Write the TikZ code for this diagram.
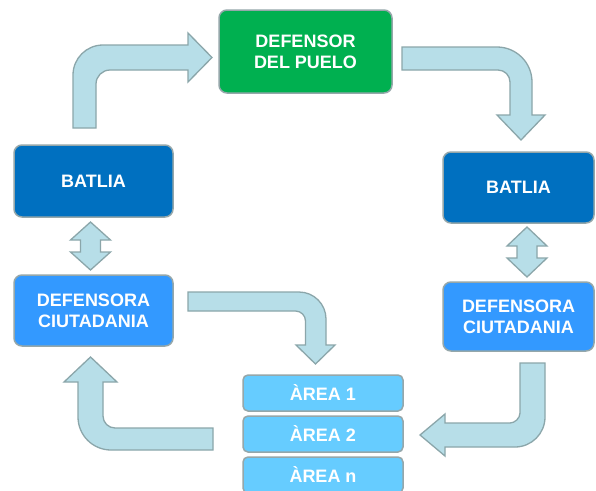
\documentclass[tikz,border=0pt]{standalone}
\usepackage{fontspec}
\setmainfont{Liberation Sans}
\definecolor{cgreen}{HTML}{00B050}
\definecolor{cdark}{HTML}{0070C0}
\definecolor{cmid}{HTML}{3399FF}
\definecolor{carea}{HTML}{66CCFF}
\definecolor{afill}{HTML}{B7DEE8}
\definecolor{aline}{HTML}{8BA6AA}
\definecolor{bline}{HTML}{95A7AA}
\begin{document}
\begin{tikzpicture}[x=1pt,y=-1pt,
  box/.style={draw=bline, line width=1.5pt, rounded corners=8pt, text=white,
    align=center, inner sep=0pt, font=\fontsize{18}{21}\selectfont\bfseries},
  areabox/.style={box, fill=carea, rounded corners=5pt, minimum width=160pt, minimum height=36pt},
  blockarrow/.style={fill=afill, draw=aline, line width=1.3pt, line join=miter}]
\path[fill=white] (0,0) rectangle (596,490);
\useasboundingbox (0,0) rectangle (596,490);

% boxes
\node[box, fill=cgreen, minimum width=173pt, minimum height=83pt] (dp) at (305.5,51.5) {DEFENSOR\\DEL PUELO};
\node[box, fill=cdark, minimum width=159pt, minimum height=72pt] (batL) at (93.5,181) {BATLIA};
\node[box, fill=cmid, minimum width=159pt, minimum height=71pt] (defL) at (93.5,310.5) {DEFENSORA\\CIUTADANIA};
\node[box, fill=cdark, minimum width=151pt, minimum height=71pt] (batR) at (518.5,187.5) {BATLIA};
\node[box, fill=cmid, minimum width=151pt, minimum height=69pt] (defR) at (518.5,316.5) {DEFENSORA\\CIUTADANIA};
\node[areabox] (a1) at (323,393) {ÀREA 1};
\node[areabox] (a2) at (323,434) {ÀREA 2};
\node[areabox] (an) at (323,475) {ÀREA n};

% arrow: BATLIA (left) -> DEFENSOR DEL PUELO
\draw[blockarrow] (73,128) -- (73,75) .. controls (73,58.4) and (86.4,45) .. (103,45)
  -- (188,45) -- (188,33) -- (212,57.5) -- (188,82) -- (188,70) -- (110,70)
  .. controls (102.3,70) and (96,76.3) .. (96,84) -- (96,128) -- cycle;

% arrow: DEFENSOR DEL PUELO -> BATLIA (right)
\draw[blockarrow] (402,47) -- (497,47) .. controls (516.3,47) and (532,62.7) .. (532,82)
  -- (532,115) -- (545,115) -- (521,140) -- (497,115) -- (510,115) -- (510,82)
  .. controls (510,75.4) and (504.6,70) .. (498,70) -- (402,70) -- cycle;

% arrow: DEFENSORA (left) -> AREA
\draw[blockarrow] (188,292) -- (299,292) .. controls (313.9,292) and (326,304.1) .. (326,319)
  -- (326,345) -- (335,345) -- (315.5,364) -- (296,345) -- (305.5,345) -- (305.5,321)
  .. controls (305.5,315.5) and (301,311) .. (295.5,311) -- (188,311) -- cycle;

% arrow: AREA -> DEFENSORA (left)
\draw[blockarrow] (213,428) -- (213,450) -- (111,450) .. controls (92.8,450) and (78,435.2) .. (78,417)
  -- (78,382) -- (64,382) -- (90.5,357) -- (117,382) -- (103,382) -- (103,416)
  .. controls (103,422.6) and (108.4,428) .. (115,428) -- cycle;

% arrow: DEFENSORA (right) -> AREA
\draw[blockarrow] (520,363) -- (545,363) -- (545,417) .. controls (545,433.6) and (531.6,447) .. (515,447)
  -- (445,447) -- (445,456) -- (420,435) -- (445,414) -- (445,423) -- (510,423)
  .. controls (514.5,423) and (520,418.5) .. (520,413) -- cycle;

% double arrows
\draw[blockarrow] (90.5,222) -- (110.5,240) -- (100.5,240) -- (100.5,252) -- (110.5,252)
  -- (90.5,270) -- (70.5,252) -- (80.5,252) -- (80.5,240) -- (70.5,240) -- cycle;
\draw[blockarrow] (527,227) -- (547,246) -- (537,246) -- (537,258) -- (547,258)
  -- (527,277) -- (507,258) -- (517,258) -- (517,246) -- (507,246) -- cycle;
\end{tikzpicture}
\end{document}
